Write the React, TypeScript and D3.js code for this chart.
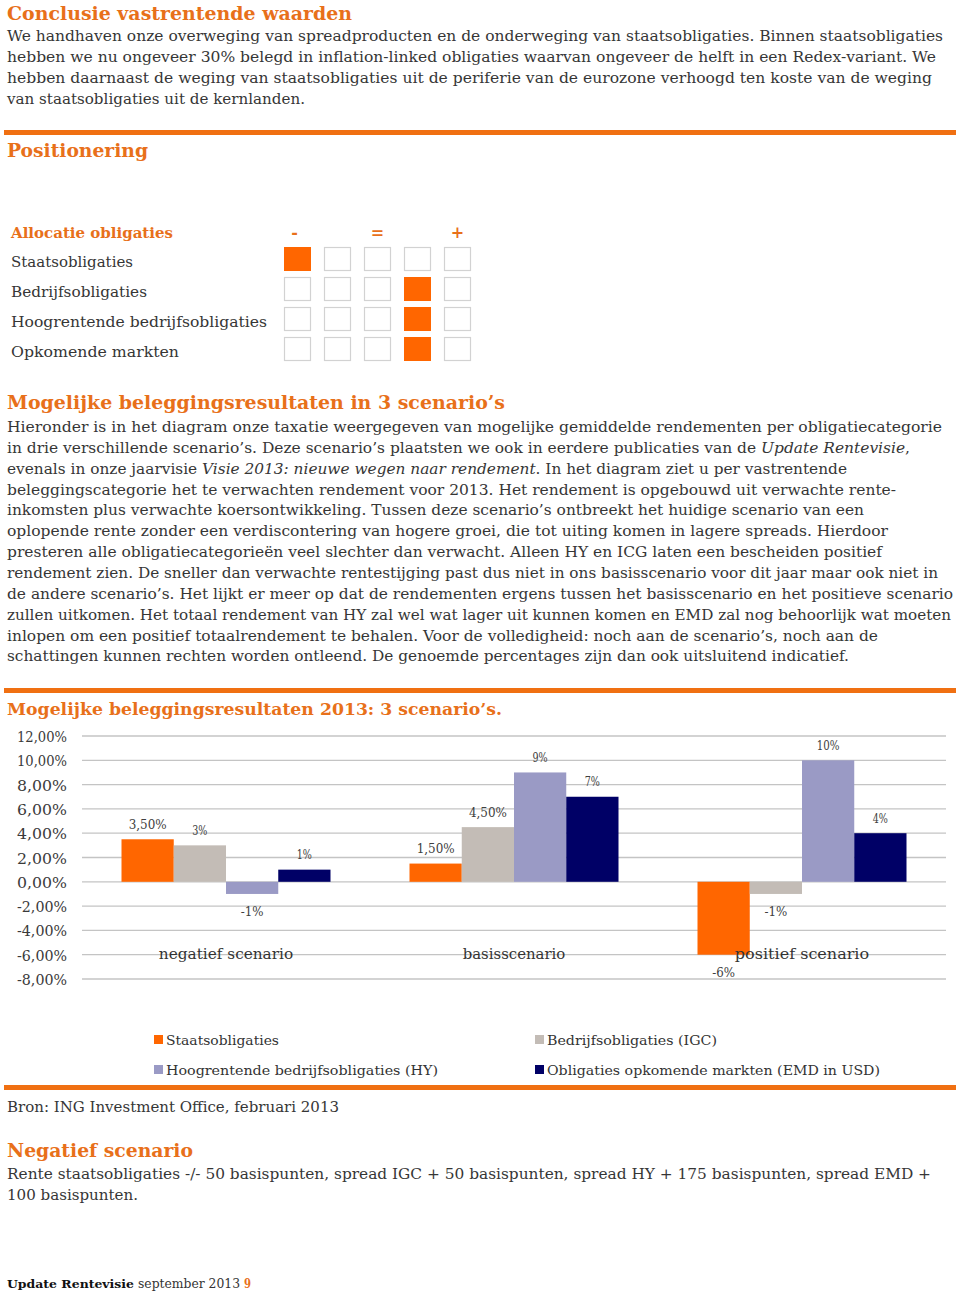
import React from "react";
import * as d3 from "d3";

// ---------- Chart data ----------
const categories = ["negatief scenario", "basisscenario", "positief scenario"];
const seriesNames = [
  "Staatsobligaties",
  "Bedrijfsobligaties (IGC)",
  "Hoogrentende bedrijfsobligaties (HY)",
  "Obligaties opkomende markten (EMD in USD)",
];
const staatsValues = [3.5, 1.5, -6];
const igcValues = [3, 4.5, -1];
const hyValues = [-1, 9, 10];
const emdValues = [1, 7, 4];
const staatsLabels = ["3,50%", "1,50%", "-6%"];
const igcLabels = ["3%", "4,50%", "-1%"];
const hyLabels = ["-1%", "9%", "10%"];
const emdLabels = ["1%", "7%", "4%"];
const yTickValues = [12, 10, 8, 6, 4, 2, 0, -2, -4, -6, -8];
const yTickLabels = ["12,00%", "10,00%", "8,00%", "6,00%", "4,00%", "2,00%", "0,00%", "-2,00%", "-4,00%", "-6,00%", "-8,00%"];
const seriesColors = ["#FF6600", "#C3BCB6", "#9A9AC5", "#000066"];

// ---------- Allocation table ----------
const allocRows = ["Staatsobligaties", "Bedrijfsobligaties", "Hoogrentende bedrijfsobligaties", "Opkomende markten"];
const allocRowWidths = [122, 136, 256, 168];
const allocPositions = [0, 3, 3, 3];
const allocSymbols = ["-", "", "=", "", "+"];

// ---------- Text ----------
const para1 = [
  "We handhaven onze overweging van spreadproducten en de onderweging van staatsobligaties. Binnen staatsobligaties",
  "hebben we nu ongeveer 30% belegd in inflation-linked obligaties waarvan ongeveer de helft in een Redex-variant. We",
  "hebben daarnaast de weging van staatsobligaties uit de periferie van de eurozone verhoogd ten koste van de weging",
  "van staatsobligaties uit de kernlanden.",
];
const para1Widths = [936, 929, 925, 298];

const para2 = [
  "Hieronder is in het diagram onze taxatie weergegeven van mogelijke gemiddelde rendementen per obligatiecategorie",
  "in drie verschillende scenario’s. Deze scenario’s plaatsten we ook in eerdere publicaties van de _Update Rentevisie_,",
  "evenals in onze jaarvisie _Visie 2013: nieuwe wegen naar rendement_. In het diagram ziet u per vastrentende",
  "beleggingscategorie het te verwachten rendement voor 2013. Het rendement is opgebouwd uit verwachte rente-",
  "inkomsten plus verwachte koersontwikkeling. Tussen deze scenario’s ontbreekt het huidige scenario van een",
  "oplopende rente zonder een verdiscontering van hogere groei, die tot uiting komen in lagere spreads. Hierdoor",
  "presteren alle obligatiecategorieën veel slechter dan verwacht. Alleen HY en ICG laten een bescheiden positief",
  "rendement zien. De sneller dan verwachte rentestijging past dus niet in ons basisscenario voor dit jaar maar ook niet in",
  "de andere scenario’s. Het lijkt er meer op dat de rendementen ergens tussen het basisscenario en het positieve scenario",
  "zullen uitkomen. Het totaal rendement van HY zal wel wat lager uit kunnen komen en EMD zal nog behoorlijk wat moeten",
  "inlopen om een positief totaalrendement te behalen. Voor de volledigheid: noch aan de scenario’s, noch aan de",
  "schattingen kunnen rechten worden ontleend. De genoemde percentages zijn dan ook uitsluitend indicatief.",
];
const para2Widths = [935, 903, 840, 889, 857, 881, 875, 931, 946, 944, 871, 842];

const para3 = [
  "Rente staatsobligaties  -/- 50 basispunten, spread IGC + 50 basispunten, spread HY + 175 basispunten, spread EMD +",
  "100 basispunten.",
];
const para3Widths = [924, 131];

const ORANGE = "#E8701A";
const TEXT = "#363636";
const FONT = "'DejaVu Serif', serif";

function TLine({ x, y, w, text, size = 15, weight = 400, fill = TEXT, anchor = "start" }: any) {
  const parts = text.split("_");
  return (
    <text
      x={x}
      y={y}
      fontSize={size}
      fontWeight={weight}
      fill={fill}
      fontFamily={FONT}
      textAnchor={anchor}
      textLength={w}
      lengthAdjust="spacingAndGlyphs"
    >
      {parts.map((p: string, i: number) => (
        <tspan key={i} fontStyle={i % 2 === 1 ? "italic" : "normal"}>
          {p}
        </tspan>
      ))}
    </text>
  );
}

export default function App() {
  // chart scales
  const x0 = d3.scaleBand<string>().domain(categories).range([82, 946]).paddingInner(0).paddingOuter(0);
  const x1 = d3
    .scaleBand<string>()
    .domain(seriesNames)
    .range([39.5, x0.bandwidth() - 39.5])
    .paddingInner(0);
  const y = d3.scaleLinear().domain([-8, 12]).range([979, 736]);

  const seriesValues = [staatsValues, igcValues, hyValues, emdValues];
  const seriesLabels = [staatsLabels, igcLabels, hyLabels, emdLabels];

  // allocation scales
  const colScale = d3.scaleBand<number>().domain([0, 1, 2, 3, 4]).range([284, 471]).paddingInner(0.325).paddingOuter(0);
  const rowScale = d3.scaleBand<number>().domain([0, 1, 2, 3]).range([247, 361]).paddingInner(0.2).paddingOuter(0);

  const legendCols = [154, 535];
  const legendRows = [1040, 1070];

  return (
    <svg
      width={960}
      height={1294}
      style={{ position: "absolute", left: 0, top: 0, background: "#fff" }}
      fontFamily={FONT}
    >
      <rect x={0} y={0} width={960} height={1294} fill="#fff" />

      {/* Section 1 */}
      <TLine x={7} y={19.5} w={345} text="Conclusie vastrentende waarden" size={18} weight={700} fill={ORANGE} />
      {para1.map((t, i) => (
        <TLine key={i} x={7} y={41 + i * 21} w={para1Widths[i]} text={t} />
      ))}

      <rect x={4} y={130} width={952} height={5} fill="#F07012" />
      <TLine x={7} y={157} w={141} text="Positionering" size={18} weight={700} fill={ORANGE} />

      {/* Allocation table */}
      <TLine x={11} y={238} w={162} text="Allocatie obligaties" size={14.5} weight={700} fill={ORANGE} />
      {allocSymbols.map((s, i) =>
        s ? (
          <text
            key={i}
            x={colScale(i)! + colScale.bandwidth() / 2 - (i === 0 ? 3 : 0)}
            y={238}
            fontSize={16}
            fontWeight={700}
            fill={ORANGE}
            textAnchor="middle"
            fontFamily={FONT}
          >
            {s}
          </text>
        ) : null
      )}
      {allocRows.map((r, ri) => (
        <g key={r}>
          <TLine x={11} y={267 + ri * 30} w={allocRowWidths[ri]} text={r} size={15.5} />
          {[0, 1, 2, 3, 4].map((c) =>
            allocPositions[ri] === c ? (
              <rect
                key={c}
                x={colScale(c)!}
                y={rowScale(ri)!}
                width={colScale.bandwidth()}
                height={rowScale.bandwidth()}
                fill="#FF6600"
              />
            ) : (
              <rect
                key={c}
                x={colScale(c)! + 0.5}
                y={rowScale(ri)! + 0.5}
                width={colScale.bandwidth() - 1}
                height={rowScale.bandwidth() - 1}
                fill="#fff"
                stroke="#d2d2d2"
                strokeWidth={1.2}
              />
            )
          )}
        </g>
      ))}

      {/* Section 2 */}
      <TLine x={7} y={409} w={498} text="Mogelijke beleggingsresultaten in 3 scenario’s" size={18} weight={700} fill={ORANGE} />
      {para2.map((t, i) => (
        <TLine key={i} x={7} y={432 + i * 20.85} w={para2Widths[i]} text={t} />
      ))}

      <rect x={4} y={688} width={952} height={5} fill="#F07012" />
      <TLine x={7} y={715} w={495} text="Mogelijke beleggingsresultaten 2013: 3 scenario’s." size={16.5} weight={700} fill={ORANGE} />

      {/* Chart gridlines */}
      {yTickValues.map((v, i) => (
        <g key={v}>
          <line x1={82} x2={946} y1={y(v)} y2={y(v)} stroke="#c4c4c4" strokeWidth={1.3} />
          <TLine x={67} y={y(v) + 6} w={yTickLabels[i].length > 6 ? 58 : 50} text={yTickLabels[i]} size={14.5} anchor="end" fill="#3a3a3a" />
        </g>
      ))}

      {/* Bars */}
      {categories.map((cat, ci) => (
        <g key={cat} transform={`translate(${x0(cat)},0)`}>
          {seriesNames.map((s, si) => {
            const v = seriesValues[si][ci];
            const top = y(Math.max(0, v));
            const h = Math.abs(y(v) - y(0));
            return (
              <rect key={s} x={x1(s)!} y={top} width={x1.bandwidth()} height={h} fill={seriesColors[si]} />
            );
          })}
        </g>
      ))}

      {/* Category labels */}
      {categories.map((cat) => (
        <text
          key={cat}
          x={x0(cat)! + x0.bandwidth() / 2}
          y={959}
          fontSize={15}
          fill="#333"
          textAnchor="middle"
          fontFamily={FONT}
          textLength={cat.length * 7.9}
          lengthAdjust="spacingAndGlyphs"
        >
          {cat}
        </text>
      ))}

      {/* Value labels */}
      {categories.map((cat, ci) => (
        <g key={cat} transform={`translate(${x0(cat)},0)`}>
          {seriesNames.map((s, si) => {
            const v = seriesValues[si][ci];
            const cx = x1(s)! + x1.bandwidth() / 2;
            const ly = v >= 0 ? y(v) - 10.5 : y(v) + 22;
            const lbl = seriesLabels[si][ci];
            return (
              <text
                key={s}
                x={cx}
                y={ly}
                fontSize={13}
                fill="#404040"
                textAnchor="middle"
                fontFamily={FONT}
                textLength={lbl.length * 7.6}
                lengthAdjust="spacingAndGlyphs"
              >
                {lbl}
              </text>
            );
          })}
        </g>
      ))}

      {/* Legend */}
      {seriesNames.map((s, i) => {
        const lx = legendCols[i % 2];
        const ly = legendRows[Math.floor(i / 2)];
        const widths = [113, 170, 272, 333];
        return (
          <g key={s}>
            <rect x={lx} y={ly - 5} width={9} height={9} fill={seriesColors[i]} />
            <TLine x={lx + 12} y={ly + 5} w={widths[i]} text={s} size={13.5} fill="#333" />
          </g>
        );
      })}

      <rect x={4} y={1085} width={952} height={5} fill="#F07012" />
      <TLine x={7} y={1112} w={332} text="Bron: ING Investment Office, februari 2013" />

      {/* Section 3 */}
      <TLine x={7} y={1157} w={186} text="Negatief scenario" size={18} weight={700} fill={ORANGE} />
      {para3.map((t, i) => (
        <TLine key={i} x={7} y={1179 + i * 21} w={para3Widths[i]} text={t} />
      ))}

      {/* Footer */}
      <TLine x={7} y={1288} w={127} text="Update Rentevisie" size={11.5} weight={700} fill="#111" />
      <TLine x={138} y={1288} w={102} text="september 2013" size={12} fill="#333" />
      <TLine x={244} y={1288} w={7} text="9" size={13} weight={700} fill={ORANGE} />
    </svg>
  );
}
